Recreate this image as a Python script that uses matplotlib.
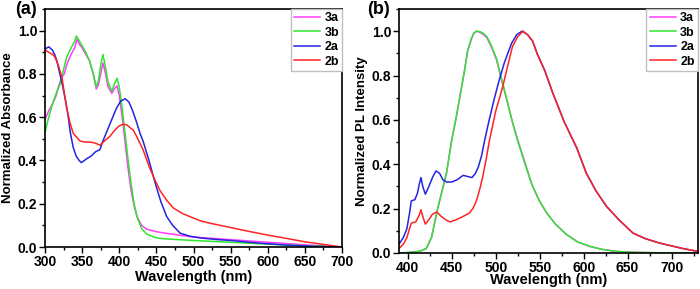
import matplotlib
matplotlib.use("Agg")
import matplotlib.pyplot as plt
from matplotlib.ticker import MultipleLocator

plt.rcParams['font.family'] = ['Liberation Sans', 'DejaVu Sans']
plt.rcParams['font.weight'] = 'bold'

# ---- panel (a): absorbance ----
abs_wl_3a = [300, 305, 310, 315, 318, 322, 326, 330, 335, 340, 343, 346, 350, 355, 360, 365, 369, 372, 375,
             378, 381, 385, 390, 393, 397, 400, 404, 408, 412, 416, 420, 424, 430, 437, 445, 451, 460,
             480, 500, 550, 600, 650, 700]
abs_3a = [0.59, 0.63, 0.66, 0.70, 0.74, 0.78, 0.80, 0.85, 0.89, 0.92, 0.96, 0.94, 0.92, 0.89, 0.86, 0.80, 0.73,
          0.75, 0.80, 0.85, 0.81, 0.74, 0.71, 0.73, 0.745, 0.70, 0.60, 0.48, 0.36, 0.26, 0.19, 0.14, 0.10, 0.082,
          0.075, 0.07, 0.065, 0.055, 0.046, 0.034, 0.022, 0.01, 0.0]
abs_wl_3b = [300, 305, 310, 315, 320, 325, 329, 335, 340, 342, 345, 350, 355, 360, 365, 369, 372, 375, 378,
             381, 385, 390, 393, 397, 400, 404, 408, 412, 416, 420, 424, 430, 437, 445, 451, 460, 480, 500,
             550, 600, 650, 700]
abs_3b = [0.53, 0.60, 0.66, 0.71, 0.75, 0.82, 0.875, 0.92, 0.95, 0.975, 0.96, 0.93, 0.90, 0.86, 0.80, 0.74,
          0.77, 0.84, 0.89, 0.84, 0.76, 0.72, 0.75, 0.78, 0.74, 0.64, 0.52, 0.40, 0.29, 0.20, 0.14, 0.085, 0.06,
          0.048, 0.042, 0.038, 0.034, 0.03, 0.022, 0.013, 0.006, 0.0]
abs_wl_2a = [300, 305, 310, 313, 316, 320, 324, 328, 331, 334, 338, 342, 346, 349, 353, 357, 362, 368, 374,
             378, 384, 390, 396, 402, 408, 413, 418, 423, 428, 432, 440, 448, 456, 464, 472, 482, 495, 509,
             530, 550, 575, 600, 625, 650, 675, 700]
abs_2a = [0.915, 0.925, 0.91, 0.89, 0.86, 0.80, 0.74, 0.67, 0.61, 0.53, 0.46, 0.42, 0.40, 0.39, 0.40, 0.41,
          0.42, 0.44, 0.45, 0.49, 0.54, 0.59, 0.64, 0.675, 0.685, 0.67, 0.63, 0.58, 0.525, 0.49, 0.40, 0.30, 0.21,
          0.14, 0.10, 0.064, 0.05, 0.042, 0.035, 0.03, 0.022, 0.015, 0.009, 0.005, 0.002, 0.0]
abs_wl_2b = [300, 305, 310, 313, 318, 323, 329, 334, 338, 342, 347, 354, 361, 368, 374, 380, 387, 394, 400,
             405, 410, 415, 419, 425, 432, 441, 448, 455, 464, 473, 485, 499, 510, 525, 550, 575, 600, 625,
             650, 675, 700]
abs_2b = [0.91, 0.90, 0.89, 0.88, 0.84, 0.78, 0.645, 0.57, 0.525, 0.51, 0.49, 0.485, 0.485, 0.48, 0.47, 0.49,
          0.51, 0.54, 0.56, 0.567, 0.565, 0.55, 0.54, 0.50, 0.45, 0.365, 0.31, 0.26, 0.215, 0.18, 0.155, 0.135,
          0.12, 0.108, 0.09, 0.072, 0.055, 0.04, 0.024, 0.012, 0.0]

# ---- panel (b): photoluminescence ----
pl_wl_3 = [390, 400, 410, 415, 421, 427, 434, 439, 444, 450, 455, 459, 464, 468, 472, 475, 478, 482, 486,
           490, 495, 501, 506, 512, 519, 525, 533, 541, 549, 558, 568, 580, 593, 607, 620, 635, 650, 670,
           700, 730]
pl_3a = [0.0, 0.002, 0.006, 0.01, 0.02, 0.07, 0.20, 0.28, 0.36, 0.51, 0.61, 0.70, 0.81, 0.91, 0.96, 0.99, 1.0,
         0.995, 0.985, 0.97, 0.93, 0.87, 0.79, 0.70, 0.59, 0.51, 0.41, 0.31, 0.24, 0.18, 0.13, 0.085, 0.05, 0.03,
         0.017, 0.008, 0.004, 0.002, 0.0, 0.0]
pl_3b = [0.0, 0.002, 0.006, 0.01, 0.02, 0.07, 0.20, 0.28, 0.36, 0.51, 0.61, 0.70, 0.81, 0.91, 0.965, 0.99, 1.0,
         0.998, 0.99, 0.975, 0.935, 0.875, 0.795, 0.70, 0.59, 0.505, 0.405, 0.31, 0.24, 0.18, 0.13, 0.085, 0.05,
         0.03, 0.017, 0.008, 0.004, 0.002, 0.0, 0.0]
pl_wl_2a = [390, 395, 399, 402, 404, 408, 411, 413, 415, 417, 420, 424, 428, 432, 436, 440, 444, 450, 456,
            463, 468, 473, 477, 480, 484, 487, 492, 498, 504, 510, 518, 524, 530, 536, 542, 547, 556, 565, 578,
            592, 603, 614, 626, 640, 656, 670, 686, 700, 713, 730]
pl_2a = [0.04, 0.07, 0.11, 0.18, 0.235, 0.24, 0.27, 0.31, 0.34, 0.30, 0.265, 0.30, 0.34, 0.37, 0.36, 0.33,
         0.32, 0.32, 0.33, 0.35, 0.345, 0.34, 0.36, 0.385, 0.44, 0.50, 0.59, 0.69, 0.78, 0.86, 0.945, 0.985,
         1.0, 0.985, 0.955, 0.90, 0.82, 0.72, 0.59, 0.475, 0.36, 0.28, 0.21, 0.15, 0.09, 0.065, 0.045, 0.032,
         0.02, 0.007]
pl_wl_2b = [390, 395, 399, 402, 404, 409, 413, 415, 417, 420, 424, 428, 433, 438, 443, 448, 455, 463, 470,
            474, 478, 482, 485, 489, 493, 500, 508, 514, 519, 525, 531, 536, 542, 547, 556, 565, 578, 592, 603,
            614, 626, 640, 656, 670, 686, 700, 713, 730]
pl_2b = [0.02, 0.04, 0.07, 0.11, 0.135, 0.14, 0.17, 0.195, 0.165, 0.13, 0.15, 0.175, 0.185, 0.165, 0.15,
         0.14, 0.15, 0.165, 0.18, 0.20, 0.235, 0.29, 0.34, 0.42, 0.51, 0.64, 0.75, 0.85, 0.93, 0.975, 1.0, 0.985,
         0.955, 0.90, 0.82, 0.72, 0.59, 0.475, 0.36, 0.28, 0.21, 0.15, 0.09, 0.065, 0.045, 0.032, 0.02, 0.007]

labels = ['3a', '3b', '2a', '2b']
colors = ['#ff3cff', '#2ee62e', '#2424e0', '#ff2424']


def style_axes(ax, xmaj, xmin):
    ax.xaxis.set_major_locator(MultipleLocator(xmaj))
    ax.xaxis.set_minor_locator(MultipleLocator(xmin))
    ax.yaxis.set_major_locator(MultipleLocator(0.2))
    ax.yaxis.set_minor_locator(MultipleLocator(0.1))
    ax.tick_params(which='major', direction='out', length=4, width=1, labelsize=10, pad=1.5)
    ax.tick_params(which='minor', direction='out', length=2.5, width=1)
    for sp in ax.spines.values():
        sp.set_linewidth(1.2)
    for lab in ax.get_xticklabels() + ax.get_yticklabels():
        lab.set_fontweight('bold')
    leg = ax.legend(loc='upper right', borderaxespad=0, fancybox=False, framealpha=1,
                    edgecolor='0.75', handlelength=2.1, handletextpad=0.35, labelspacing=0.2,
                    borderpad=0.25, prop={'size': 9, 'weight': 'bold'})
    leg.get_frame().set_linewidth(1.0)


fig = plt.figure(figsize=(7, 2.89), dpi=100)
ax1 = fig.add_axes([0.0643, 0.1453, 0.4243, 0.8236])
ax2 = fig.add_axes([0.570, 0.1246, 0.4271, 0.8443])

abs_x = [abs_wl_3a, abs_wl_3b, abs_wl_2a, abs_wl_2b]
abs_y = [abs_3a, abs_3b, abs_2a, abs_2b]
for x, y, c, l in zip(abs_x, abs_y, colors, labels):
    ax1.plot(x, y, color=c, lw=1.1, label=l)
ax1.set_xlim(300, 700)
ax1.set_ylim(0, 1.1)
ax1.set_xlabel('Wavelength (nm)', fontsize=10.5, fontweight='bold', labelpad=1)
ax1.set_ylabel('Normalized Absorbance', fontsize=9.5, fontweight='bold', labelpad=3)
style_axes(ax1, 50, 25)

pl_x = [pl_wl_3, pl_wl_3, pl_wl_2a, pl_wl_2b]
pl_y = [pl_3a, pl_3b, pl_2a, pl_2b]
for x, y, c, l in zip(pl_x, pl_y, colors, labels):
    ax2.plot(x, y, color=c, lw=1.1, label=l)
ax2.set_xlim(390, 730)
ax2.set_ylim(0, 1.1)
ax2.set_xlabel('Wavelength (nm)', fontsize=10.5, fontweight='bold', labelpad=-1)
ax2.set_ylabel('Normalized PL Intensity', fontsize=9.5, fontweight='bold', labelpad=3)
style_axes(ax2, 50, 25)

fig.text(15 / 700, 1 - 10 / 289, '(a)', fontsize=13, fontweight='bold', va='center', ha='left')
fig.text(367 / 700, 1 - 10 / 289, '(b)', fontsize=13, fontweight='bold', va='center', ha='left')

fig.savefig('out.png', dpi=100)
